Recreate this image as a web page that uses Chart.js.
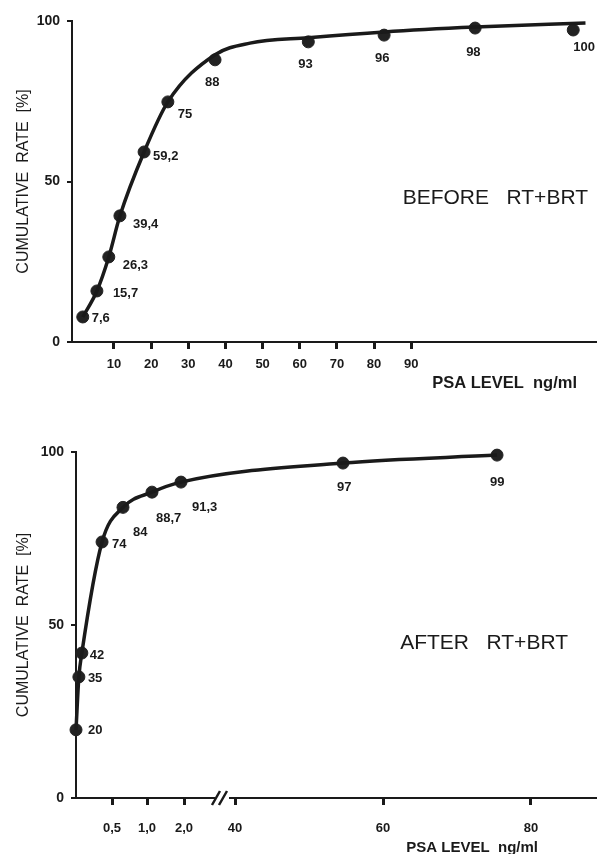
<!DOCTYPE html>
<html>
<head>
<meta charset="utf-8">
<script src="https://cdn.jsdelivr.net/npm/chart.js@4"></script>
<style>
    html, body { margin: 0; padding: 0; background: #fff; }
    body { width: 597px; height: 854px; overflow: hidden; position: relative; }
    .box { position: absolute; left: 0; width: 597px; }
    #boxBefore { top: 0; height: 400px; }
    #boxAfter { top: 400px; height: 454px; }
</style>
</head>
<body>
<div class="box" id="boxBefore"><canvas id="chartBefore"></canvas></div>
<div class="box" id="boxAfter"><canvas id="chartAfter"></canvas></div>
<script>
// BEFORE RT+BRT - PSA (ng/ml) / cumulative rate (%)
const psaBefore = [1.6, 5.4, 8.6, 11.6, 18.1, 24.5, 37.2, 62.3, 82.7, 107.2, 133.6];
const rateBefore = [7.8, 15.9, 26.5, 39.3, 59.2, 74.8, 87.9, 93.5, 95.6, 97.8, 97.2];
const labelsBefore = ['7,6', '15,7', '26,3', '39,4', '59,2', '75', '88', '93', '96', '98', '100'];
// fitted curve drawn through the points
const curveXBefore = [1.6, 5.4, 8.6, 11.6, 18.1, 24.5, 37.2, 46.6, 62.3, 82.7, 107.2, 136.9];
const curveYBefore = [7.8, 15.9, 26.5, 39.3, 59.2, 74.8, 89.5, 93.1, 94.8, 96.6, 98.1, 99.4];
const xTicksBefore = [10, 20, 30, 40, 50, 60, 70, 80, 90];

// AFTER RT+BRT - broken x axis, values are positions along that axis
const posAfter = [18.51, 18.9, 19.3, 22.03, 24.86, 28.78, 32.7, 54.59, 75.41];
const rateAfter = [19.7, 35, 41.9, 74, 84, 88.4, 91.3, 96.8, 99.1];
const labelsAfter = ['20', '35', '42', '74', '84', '88,7', '91,3', '97', '99'];
const xTicksAfter = [23.38, 28.11, 33.11, 40, 60, 80];
const xTickLabelsAfter = ['0,5', '1,0', '2,0', '40', '60', '80'];
const axisBreakAfter = 38.24;

const yTicks = [0, 50, 100];

// label placement (left edge / vertical centre offset from the dot)
const offsetsBefore = [[9, 1], [16, 2], [14, 8], [13, 9], [9, 4], [10, 13], [-10, 23], [-10, 23], [-9, 23], [-9, 24], [0, 17]];
const offsetsAfter = [[12, 1], [9, 2], [8, 2], [10, 2], [10, 25], [4, 26], [11, 25], [-6, 24], [-7, 27]];

const INK = '#1a1a1a';
const FONT = "'Liberation Sans', Arial, sans-serif";

// text on the dots
const pointLabels = {
    id: 'pointLabels',
    afterDatasetsDraw(chart, args, opts) {
        const ctx = chart.ctx;
        const meta = chart.getDatasetMeta(1);
        ctx.save();
        ctx.fillStyle = INK;
        ctx.font = 'bold 13px ' + FONT;
        ctx.textAlign = 'left';
        ctx.textBaseline = 'middle';
        meta.data.forEach((pt, i) => {
            const off = opts.offsets[i];
            ctx.fillText(opts.labels[i], pt.x + off[0], pt.y + off[1]);
        });
        ctx.restore();
    }
};

// panel caption + x axis caption + axis break
const extras = {
    id: 'extras',
    afterDraw(chart, args, opts) {
        const ctx = chart.ctx;
        const area = chart.chartArea;
        ctx.save();
        ctx.fillStyle = INK;
        ctx.textAlign = 'right';
        ctx.textBaseline = 'middle';
        ctx.font = '21px ' + FONT;
        ctx.fillText(opts.caption, chart.width - opts.captionRight, opts.captionY);
        ctx.font = 'bold ' + opts.axisFont + 'px ' + FONT;
        ctx.fillText('PSA LEVEL  ng/ml', chart.width - opts.axisRight, opts.axisY);
        if (opts.breakAt !== undefined) {
            const x = chart.scales.x.getPixelForValue(opts.breakAt);
            const y = area.bottom;
            ctx.fillStyle = '#fff';
            ctx.fillRect(x - 7, y - 2, 14, 4);
            ctx.strokeStyle = INK;
            ctx.lineWidth = 2.5;
            ctx.beginPath();
            ctx.moveTo(x - 10, y + 7); ctx.lineTo(x - 2, y - 7);
            ctx.moveTo(x - 3, y + 7); ctx.lineTo(x + 5, y - 7);
            ctx.stroke();
        }
        ctx.restore();
    }
};

function makeChart(id, cfg) {
    const ctx = document.getElementById(id).getContext('2d');
    return new Chart(ctx, {
        type: 'line',
        data: {
            datasets: [
                {
                    data: cfg.curveX.map((x, i) => ({ x: x, y: cfg.curveY[i] })),
                    borderColor: INK,
                    borderWidth: 3.5,
                    pointRadius: 0,
                    cubicInterpolationMode: 'monotone',
                    fill: false,
                    clip: false
                },
                {
                    data: cfg.x.map((x, i) => ({ x: x, y: cfg.y[i] })),
                    showLine: false,
                    pointRadius: 6,
                    pointBackgroundColor: '#222',
                    pointBorderColor: '#222',
                    pointBorderWidth: 1,
                    clip: false
                }
            ]
        },
        options: {
            responsive: true,
            maintainAspectRatio: false,
            animation: false,
            layout: { autoPadding: false, padding: { top: cfg.padTop, right: 0, left: 0, bottom: 0 } },
            plugins: {
                legend: { display: false },
                tooltip: { enabled: false },
                pointLabels: { labels: cfg.labels, offsets: cfg.offsets },
                extras: cfg.extras
            },
            scales: {
                x: {
                    type: 'linear',
                    min: cfg.xMin,
                    max: cfg.xMax,
                    afterBuildTicks: scale => { scale.ticks = cfg.xTicks.map(v => ({ value: v })); },
                    afterFit: scale => {
                        scale.height = cfg.xHeight;
                        scale.paddingLeft = 0;
                        scale.paddingRight = 0;
                    },
                    ticks: {
                        color: INK,
                        padding: cfg.xPad,
                        font: { family: FONT, size: 13, weight: 'bold' },
                        maxRotation: 0,
                        autoSkip: false,
                        callback: cfg.xLabel
                    },
                    grid: { drawOnChartArea: false, drawTicks: true, tickLength: 7, lineWidth: 3, color: INK },
                    border: { display: true, color: INK, width: 2 }
                },
                y: {
                    type: 'linear',
                    min: 0,
                    max: 100,
                    afterBuildTicks: scale => { scale.ticks = yTicks.map(v => ({ value: v })); },
                    afterFit: scale => { scale.width = cfg.yWidth; },
                    ticks: {
                        color: INK,
                        padding: 7,
                        font: { family: FONT, size: 14, weight: 'bold' }
                    },
                    grid: { drawOnChartArea: false, drawTicks: true, tickLength: 5, lineWidth: 2, color: INK },
                    border: { display: true, color: INK, width: 2 },
                    title: {
                        display: true,
                        text: 'CUMULATIVE  RATE  [%]',
                        color: INK,
                        padding: { top: 14, bottom: 0 },
                        font: { family: FONT, size: 16 }
                    }
                }
            }
        },
        plugins: [pointLabels, extras]
    });
}

makeChart('chartBefore', {
    x: psaBefore, y: rateBefore, labels: labelsBefore, offsets: offsetsBefore,
    curveX: curveXBefore, curveY: curveYBefore,
    xMin: -1.3, xMax: 140, xTicks: xTicksBefore,
    xLabel: v => String(v),
    xHeight: 58, xPad: 8, yWidth: 72, padTop: 21,
    extras: { caption: 'BEFORE   RT+BRT', captionRight: 9, captionY: 198, axisFont: 16.5, axisRight: 20, axisY: 383 }
});

makeChart('chartAfter', {
    x: posAfter, y: rateAfter, labels: labelsAfter, offsets: offsetsAfter,
    curveX: posAfter, curveY: rateAfter,
    xMin: 18.51, xMax: 88.92, xTicks: xTicksAfter,
    xLabel: (v, i) => xTickLabelsAfter[i],
    xHeight: 56, xPad: 16, yWidth: 76, padTop: 52,
    extras: { caption: 'AFTER   RT+BRT', captionRight: 29, captionY: 243, axisFont: 15, axisRight: 59, axisY: 448, breakAt: axisBreakAfter }
});
</script>
</body>
</html>
